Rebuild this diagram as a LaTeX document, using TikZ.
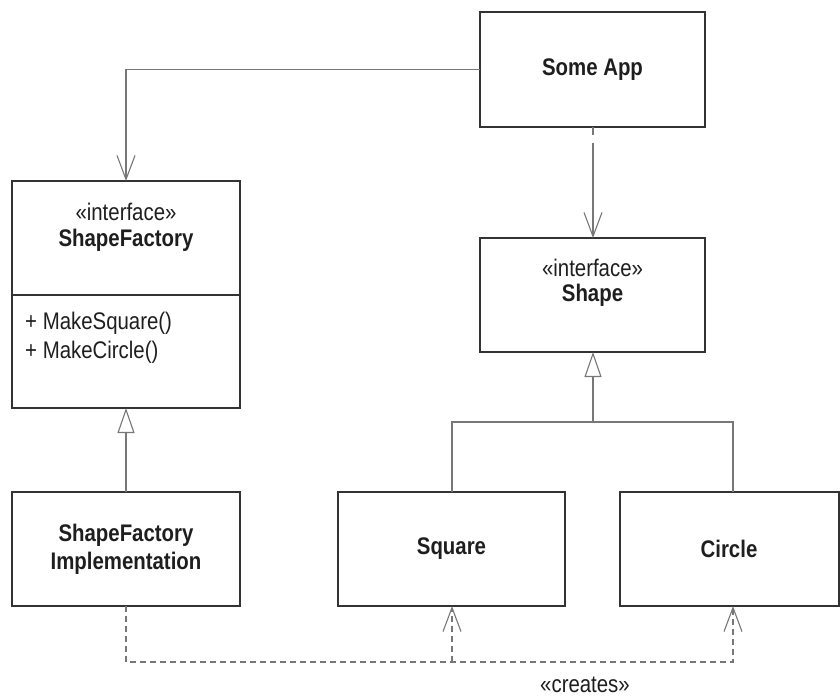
\documentclass[tikz,border=0pt]{standalone}
\usepackage{fontspec}
\setmainfont{Liberation Sans}[FakeStretch=0.85]
\usetikzlibrary{arrows.meta,positioning}
\definecolor{boxline}{HTML}{333333}
\definecolor{conn}{HTML}{777777}
\definecolor{txt}{HTML}{1E1E1E}
\begin{document}
\begin{tikzpicture}[x=1pt,y=-1pt,
  lbl/.style={text=txt,font=\fontsize{24}{29}\selectfont,inner sep=0pt,align=center},
  blbl/.style={lbl,font=\fontsize{24}{29}\selectfont\bfseries},
  boxdraw/.style={draw=boxline,line width=1.3pt},
  conline/.style={draw=conn,line width=1.1pt},
  openarrow/.style={-{Straight Barb[length=24pt,width=18pt,line width=1.1pt]}},
  inherit/.style={-{Triangle[open,fill=white,length=25pt,width=17pt,line width=1.1pt]}},
  dep/.style={conline,dash pattern=on 6pt off 4pt}
]
\useasboundingbox (0,0) rectangle (840,699);
% boxes
\draw[boxdraw] (480,12) rectangle (705,127);
\node[blbl] (app) at (592.5,69.5) {Some App};
\coordinate (appL) at (480,69.5);
\coordinate (appB) at (593,127);

\draw[boxdraw] (12,181) rectangle (240,408);
\draw[boxdraw] (12,295) -- (240,295);
\node[lbl] (sfint) at (126,212) {«interface»};
\node[blbl] (sfname) at (126,240) {ShapeFactory};
\node[lbl,anchor=west] (m1) at (25,323) {+ MakeSquare()};
\node[lbl,anchor=west] (m2) at (25,352) {+ MakeCircle()};
\coordinate (sfT) at (126,181);
\coordinate (sfB) at (126,408);

\draw[boxdraw] (480,238) rectangle (705,352);
\node[lbl] (shint) at (592.5,268) {«interface»};
\node[blbl] (shname) at (592.5,295) {Shape};
\coordinate (shT) at (593,238);
\coordinate (shB) at (593,352);

\draw[boxdraw] (12,492) rectangle (240,606);
\node[blbl] (impl1) at (126,535) {ShapeFactory};
\node[blbl] (impl2) at (126,563) {Implementation};
\coordinate (imT) at (126,492);
\coordinate (imB) at (126,606);

\draw[boxdraw] (338,492) rectangle (565,606);
\node[blbl] (sq) at (451.5,549) {Square};
\coordinate (sqT) at (452,492);
\coordinate (sqB) at (452,606);

\draw[boxdraw] (620,492) rectangle (839,606);
\node[blbl] (ci) at (729,549) {Circle};
\coordinate (ciT) at (733,492);
\coordinate (ciB) at (733,606);

% connectors
\draw[conline,openarrow] (appL) -| (sfT);
\draw[conline,openarrow,dash pattern=on 8pt off 8pt on 300pt off 0pt] (appB) -- (shT);
\coordinate (junc) at (593,422);
\draw[conline] (sqT) |- (junc) -| (ciT);
\draw[conline,inherit] (junc) -- (shB);
\draw[conline,inherit] (imT) -- (sfB);
\coordinate (dl) at (126,662);
\coordinate (dm) at (452,662);
\coordinate (dr) at (733,662);
\draw[dep,openarrow] (imB) -- (dl) -- (dr) -- (ciB);
\draw[dep,openarrow] (dm) -- (sqB);
\node[lbl] (creates) at (585,685) {«creates»};
\end{tikzpicture}
\end{document}
